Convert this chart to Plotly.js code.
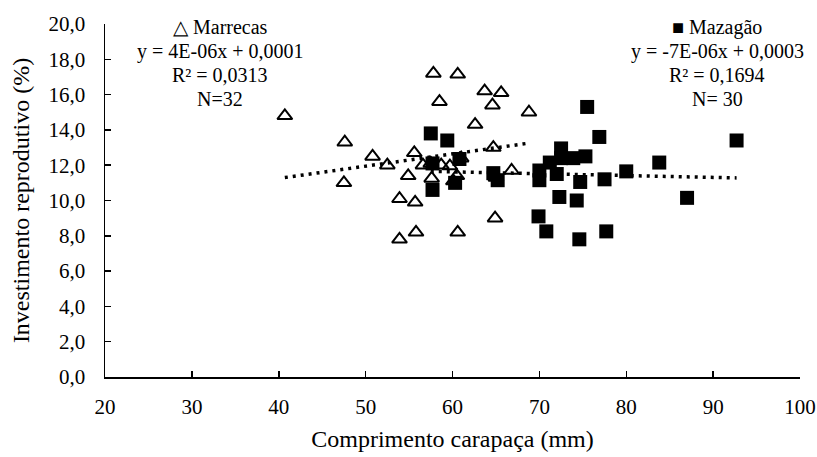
<!DOCTYPE html>
<html>
<head>
<meta charset="utf-8">
<script src="https://cdn.plot.ly/plotly-3.0.1.min.js"></script>
<style>html,body{margin:0;padding:0;background:#fff;}#chart{width:817px;height:457px;}</style>
</head>
<body>
<div id="chart"></div>
<script>
// Marrecas (open triangles)
const marrecasX = [40.7, 47.6, 47.5, 50.8, 52.5, 55.6, 54.9, 53.9, 55.7, 53.9, 55.8, 57.8, 60.6, 58.5, 63.7, 65.6,
                   64.6, 68.8, 62.6, 64.7, 56.6, 57.6, 59.7, 60.6, 64.9, 66.8, 60.5, 58.7, 57.5, 61.0, 60.1, 65.0];
const marrecasY = [14.8, 13.3, 11.0, 12.5, 12.0, 12.7, 11.4, 10.1, 9.9, 7.8, 8.2, 17.2, 17.15, 15.6, 16.2, 16.1,
                   15.4, 15.0, 14.3, 13.0, 12.0, 11.25, 11.95, 8.2, 9.0, 11.7, 11.4, 12.0, 12.1, 12.4, 11.1, 11.3];
// Mazagão (filled squares)
const mazagaoX = [57.5, 59.4, 60.8, 57.7, 57.7, 60.3, 64.7, 65.2, 70.0, 70.0, 69.9, 70.8, 75.5, 76.9, 92.7,
                  83.8, 87.0, 80.0, 77.5, 77.7, 74.6, 72.3, 74.3, 71.2, 72.5, 72.5, 72.0, 73.9, 75.3, 74.7];
const mazagaoY = [13.8, 13.4, 12.35, 12.1, 10.6, 11.0, 11.55, 11.15, 11.7, 11.15, 9.1, 8.25, 15.3, 13.6, 13.4,
                  12.15, 10.15, 11.65, 11.2, 8.25, 7.8, 10.2, 10.0, 12.15, 12.95, 12.4, 11.5, 12.4, 12.5, 11.05];
// Linear trend lines (endpoints)
const marrecasTrendX = [40.7, 68.8];
const marrecasTrendY = [11.3, 13.25];
const mazagaoTrendX = [57.5, 92.7];
const mazagaoTrendY = [11.65, 11.28];
// Legend texts
const marrecasText = ["\u25B3 Marrecas", "y = 4E-06x + 0,0001", "R\u00B2 = 0,0313", "N=32"];
const mazagaoText = ["\u25A0 Mazagão", "y = -7E-06x + 0,0003", "R\u00B2 = 0,1694", "N= 30"];
const xTicks = [20, 30, 40, 50, 60, 70, 80, 90, 100];
const yTicks = [0, 2, 4, 6, 8, 10, 12, 14, 16, 18, 20];

const FONT = "Liberation Serif";

const traces = [
  {x: marrecasX, y: marrecasY, mode: 'markers', type: 'scatter', name: 'Marrecas',
   marker: {symbol: 'triangle-up-open', size: 13, color: '#000', line: {width: 2, color: '#000'}}},
  {x: mazagaoX, y: mazagaoY, mode: 'markers', type: 'scatter', name: 'Mazagão',
   marker: {symbol: 'square', size: 14, color: '#000'}},
  {x: marrecasTrendX, y: marrecasTrendY, mode: 'lines', type: 'scatter',
   line: {color: '#000', width: 3.5, dash: '3px,5px'}},
  {x: mazagaoTrendX, y: mazagaoTrendY, mode: 'lines', type: 'scatter',
   line: {color: '#000', width: 3.5, dash: '3px,5px'}}
];

const L = 105, R = 17, T = 24, B = 80;
const W = 817, H = 457;
const pw = W - L - R, ph = H - T - B;
function px2paperX(px){ return (px - L) / pw; }
function px2paperY(py){ return (H - B - py) / ph; }

const annotations = [];
const lineYs = [27, 51, 75, 99];
marrecasText.forEach((t, i) => annotations.push({
  text: t, xref: 'paper', yref: 'paper', x: px2paperX(220), y: px2paperY(lineYs[i]),
  xanchor: 'center', yanchor: 'middle', showarrow: false, font: {family: FONT, size: 20, color: '#000'}
}));
mazagaoText.forEach((t, i) => annotations.push({
  text: t, xref: 'paper', yref: 'paper', x: px2paperX(717), y: px2paperY(lineYs[i]),
  xanchor: 'center', yanchor: 'middle', showarrow: false, font: {family: FONT, size: 20, color: '#000'}
}));

const layout = {
  width: W, height: H,
  margin: {l: L, r: R, t: T, b: B},
  paper_bgcolor: '#fff', plot_bgcolor: '#fff',
  showlegend: false,
  separators: ',.',
  font: {family: FONT, color: '#000', size: 21},
  xaxis: {
    range: [20, 100], tickvals: xTicks, ticktext: xTicks.map(String),
    showgrid: false, zeroline: false, showline: true, linecolor: '#000', linewidth: 1.5,
    ticks: 'inside', ticklen: 6, tickwidth: 1.5, tickcolor: '#000',
    ticklabelstandoff: 10,
    tickfont: {family: FONT, size: 21, color: '#000'},
    title: {text: 'Comprimento carapaça (mm)', font: {family: FONT, size: 24, color: '#000'}, standoff: 12}
  },
  yaxis: {
    range: [0, 20], tickvals: yTicks, tickformat: '.1f',
    showgrid: false, zeroline: false, showline: true, linecolor: '#000', linewidth: 1.5,
    ticks: 'inside', ticklen: 6, tickwidth: 1.5, tickcolor: '#000',
    ticklabelstandoff: 14,
    tickfont: {family: FONT, size: 21, color: '#000'},
    title: {text: 'Investimento reprodutivo (%)', font: {family: FONT, size: 24, color: '#000'}, standoff: 12}
  },
  annotations: annotations
};

Plotly.newPlot('chart', traces, layout, {displayModeBar: false, staticPlot: true});
</script>
</body>
</html>
